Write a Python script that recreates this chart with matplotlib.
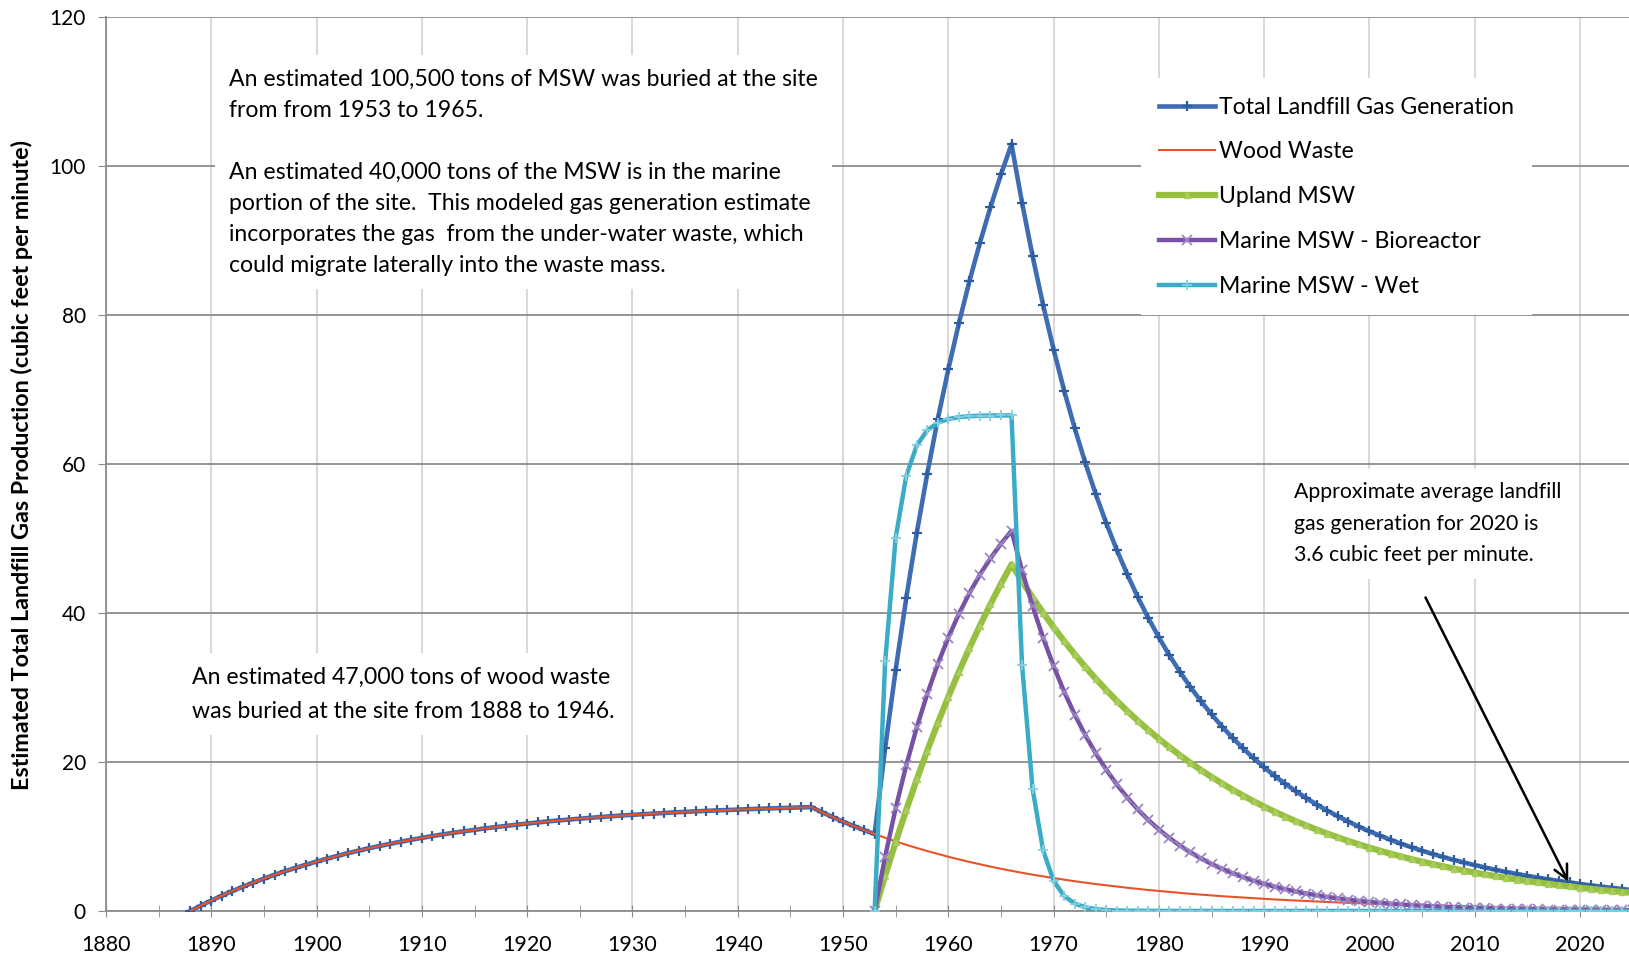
import matplotlib.pyplot as plt
from matplotlib.ticker import MultipleLocator

plt.rcParams['font.family'] = ['Lato', 'DejaVu Sans']

# years on the category axis
years_all = list(range(1888, 2026))
years_msw = list(range(1953, 2026))

# values (cubic feet per minute)
wood_waste = [
    0.00, 0.72, 1.40, 2.05, 2.67, 3.25, 3.81, 4.34, 4.85, 5.33,
    5.78, 6.22, 6.63, 7.03, 7.40, 7.76, 8.10, 8.42, 8.72, 9.02,
    9.29, 9.56, 9.81, 10.05, 10.27, 10.49, 10.69, 10.89, 11.08, 11.25,
    11.42, 11.58, 11.73, 11.88, 12.02, 12.15, 12.27, 12.39, 12.50, 12.61,
    12.71, 12.81, 12.90, 12.99, 13.07, 13.15, 13.23, 13.30, 13.37, 13.43,
    13.49, 13.55, 13.61, 13.66, 13.71, 13.76, 13.81, 13.85, 13.89, 13.93,
    13.25, 12.60, 11.99, 11.40, 10.85, 10.32, 9.82, 9.34, 8.88, 8.45,
    8.04, 7.65, 7.27, 6.92, 6.58, 6.26, 5.95, 5.66, 5.39, 5.12,
    4.87, 4.64, 4.41, 4.20, 3.99, 3.80, 3.61, 3.44, 3.27, 3.11,
    2.96, 2.81, 2.68, 2.54, 2.42, 2.30, 2.19, 2.08, 1.98, 1.89,
    1.79, 1.71, 1.62, 1.54, 1.47, 1.40, 1.33, 1.26, 1.20, 1.14,
    1.09, 1.03, 0.98, 0.94, 0.89, 0.85, 0.81, 0.77, 0.73, 0.69,
    0.66, 0.63, 0.60, 0.57, 0.54, 0.51, 0.49, 0.47, 0.44, 0.42,
    0.40, 0.38, 0.36, 0.34, 0.33, 0.31, 0.30, 0.28,
]

total_gas = [
    0.00, 0.72, 1.40, 2.05, 2.67, 3.25, 3.81, 4.34, 4.85, 5.33,
    5.78, 6.22, 6.63, 7.03, 7.40, 7.76, 8.10, 8.42, 8.72, 9.02,
    9.29, 9.56, 9.81, 10.05, 10.27, 10.49, 10.69, 10.89, 11.08, 11.25,
    11.42, 11.58, 11.73, 11.88, 12.02, 12.15, 12.27, 12.39, 12.50, 12.61,
    12.71, 12.81, 12.90, 12.99, 13.07, 13.15, 13.23, 13.30, 13.37, 13.43,
    13.49, 13.55, 13.61, 13.66, 13.71, 13.76, 13.81, 13.85, 13.89, 13.93,
    13.25, 12.60, 11.99, 11.40, 10.85,
    10.32, 21.87, 32.38, 41.95, 50.71, 58.69, 66.01, 72.69, 78.85, 84.48,
    89.66, 94.43, 98.83, 102.89, 95.04, 87.88, 81.32, 75.33, 69.83, 64.80,
    60.18, 55.93, 52.04, 48.45, 45.15, 42.10, 39.29, 36.70, 34.30, 32.08,
    30.03, 28.14, 26.37, 24.74, 23.22, 21.81, 20.49, 19.26, 18.12, 17.06,
    16.07, 15.14, 14.27, 13.46, 12.70, 11.99, 11.31, 10.68, 10.11, 9.55,
    9.03, 8.54, 8.08, 7.65, 7.24, 6.85, 6.50, 6.15, 5.83, 5.52,
    5.23, 4.97, 4.71, 4.47, 4.24, 4.02, 3.82, 3.62, 3.43, 3.27,
    3.10, 2.95, 2.79,
]

upland_msw = [
    0.00, 4.75, 9.26, 13.55, 17.64, 21.52, 25.22, 28.73, 32.08, 35.26,
    38.28, 41.16, 43.90, 46.50, 44.23, 42.08, 40.02, 38.07, 36.21, 34.45,
    32.77, 31.17, 29.65, 28.20, 26.83, 25.52, 24.28, 23.09, 21.97, 20.89,
    19.87, 18.91, 17.98, 17.11, 16.27, 15.48, 14.72, 14.00, 13.32, 12.67,
    12.05, 11.47, 10.91, 10.38, 9.87, 9.39, 8.93, 8.49, 8.08, 7.69,
    7.31, 6.95, 6.61, 6.29, 5.99, 5.69, 5.42, 5.15, 4.90, 4.66,
    4.43, 4.22, 4.01, 3.82, 3.63, 3.45, 3.29, 3.13, 2.97, 2.83,
    2.69, 2.56, 2.43,
]

marine_bio = [
    0.00, 7.30, 13.78, 19.52, 24.62, 29.13, 33.14, 36.69, 39.85, 42.64,
    45.12, 47.32, 49.27, 51.00, 45.69, 40.93, 36.66, 32.85, 29.42, 26.36,
    23.61, 21.15, 18.95, 16.98, 15.21, 13.62, 12.20, 10.93, 9.79, 8.77,
    7.86, 7.04, 6.31, 5.65, 5.06, 4.54, 4.06, 3.64, 3.26, 2.92,
    2.62, 2.34, 2.10, 1.88, 1.69, 1.51, 1.35, 1.21, 1.09, 0.97,
    0.87, 0.78, 0.70, 0.63, 0.56, 0.50, 0.45, 0.40, 0.36, 0.32,
    0.29, 0.26, 0.23, 0.21, 0.19, 0.17, 0.15, 0.13, 0.12, 0.11,
    0.10, 0.09, 0.08,
]

marine_wet = [
    0.00, 33.48, 50.10, 58.36, 62.46, 64.50, 65.51, 66.01, 66.26, 66.39,
    66.45, 66.48, 66.49, 66.50, 33.02, 16.40, 8.14, 4.04, 2.01, 1.00,
    0.49, 0.25, 0.12, 0.06, 0.03, 0.02, 0.01, 0.00, 0.00, 0.00,
    0.00, 0.00, 0.00, 0.00, 0.00, 0.00, 0.00, 0.00, 0.00, 0.00,
    0.00, 0.00, 0.00, 0.00, 0.00, 0.00, 0.00, 0.00, 0.00, 0.00,
    0.00, 0.00, 0.00, 0.00, 0.00, 0.00, 0.00, 0.00, 0.00, 0.00,
    0.00, 0.00, 0.00, 0.00, 0.00, 0.00, 0.00, 0.00, 0.00, 0.00,
    0.00, 0.00, 0.00,
]

fig = plt.figure(figsize=(16.29, 9.59), dpi=100)
ax = fig.add_axes([0.0651, 0.0501, 0.9349, 0.9325])

ax.plot(years_all, total_gas, color='#3F6DB4', lw=3.3, marker='+', ms=7,
        mew=1.6, mec='#2F5C9E', label='Total Landfill Gas Generation', zorder=3)
ax.plot(years_all, wood_waste, color='#E8532B', lw=1.5, label='Wood Waste', zorder=4)
ax.plot(years_msw, upland_msw, color='#96C03F', lw=4.5, marker='^', ms=4.5,
        mec='#A8CC5E', mfc='#A8CC5E', label='Upland MSW', zorder=5)
ax.plot(years_msw, marine_bio, color='#7752A4', lw=3.2, marker='x', ms=6.5,
        mew=1.3, mec='#9B86C4', label='Marine MSW - Bioreactor', zorder=6)
ax.plot(years_msw, marine_wet, color='#3AACC5', lw=3.2, marker='+', ms=7.5,
        mew=1.3, mec='#86CFE0', label='Marine MSW - Wet', zorder=7)

ax.set_xlim(1880, 2024.65)
ax.set_ylim(0, 120)
ax.xaxis.set_major_locator(MultipleLocator(10))
ax.xaxis.set_minor_locator(MultipleLocator(5))
ax.yaxis.set_major_locator(MultipleLocator(20))
ax.set_axisbelow(True)
ax.grid(axis='y', color='#8C8C8C', lw=1.3)
ax.grid(axis='x', which='major', color='#DADADA', lw=1.5)
for s in ['top', 'right']:
    ax.spines[s].set_visible(False)
for s in ['left', 'bottom']:
    ax.spines[s].set_color('#8C8C8C')
    ax.spines[s].set_linewidth(1.3)
ax.tick_params(axis='x', which='both', direction='inout', length=8,
               color='#8C8C8C', labelsize=15.5, pad=13)
ax.tick_params(axis='y', direction='out', length=6, color='#8C8C8C',
               labelsize=15, pad=8.5)

fig.text(0.0135, 0.515,
         'Estimated Total Landfill Gas Production (cubic feet per minute)',
         rotation=90, ha='center', va='center', fontsize=16.8, fontweight='bold')

box = dict(facecolor='white', edgecolor='none', pad=10)
ax.text(1891.7, 113.0,
        'An estimated 100,500 tons of MSW was buried at the site\n'
        'from from 1953 to 1965.\n\n'
        'An estimated 40,000 tons of the MSW is in the marine\n'
        'portion of the site.  This modeled gas generation estimate\n'
        'incorporates the gas  from the under-water waste, which\n'
        'could migrate laterally into the waste mass.',
        fontsize=16.6, va='top', ha='left', linespacing=1.585, bbox=box, zorder=2)
ax.text(1888.2, 32.8,
        'An estimated 47,000 tons of wood waste\n'
        'was buried at the site from 1888 to 1946.',
        fontsize=16.6, va='top', ha='left', linespacing=1.77, bbox=box, zorder=2)
ax.text(1992.8, 57.5,
        'Approximate average landfill\n'
        'gas generation for 2020 is\n'
        '3.6 cubic feet per minute.',
        fontsize=15.3, va='top', ha='left', linespacing=1.72, bbox=box, zorder=2)

ax.annotate('', xy=(2019, 3.6), xytext=(2005.2, 42.4),
            arrowprops=dict(arrowstyle='->', color='black', lw=1.8,
                            mutation_scale=25), zorder=8)

leg = ax.legend(loc='upper left', bbox_to_anchor=(0.672, 0.944), fontsize=16.6,
                handlelength=2.43, handletextpad=0.15, labelspacing=1.03,
                borderpad=0.8, fancybox=False, framealpha=1)
leg.get_frame().set_edgecolor('none')

fig.savefig('out.png', dpi=100)
